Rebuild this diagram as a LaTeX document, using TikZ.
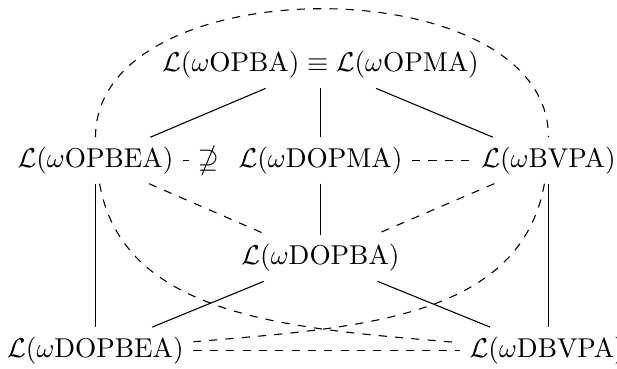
\documentclass[tikz,border=0pt]{standalone}
\usepackage{amsmath,amssymb}
\usepackage{tikz}

\begin{document}
\begin{tikzpicture}[
  s/.style={black},
  d/.style={black,dashed}]
  \useasboundingbox (0,0) rectangle (7.96,4.75);
  \node (t) at (4.135,3.91) {$\mathcal{L}(\omega\mathrm{OPBA}) \equiv \mathcal{L}(\omega\mathrm{OPMA})$};
  \node (a) at (1.232,2.68) {$\mathcal{L}(\omega\mathrm{OPBEA})$};
  \node (b) at (4.135,2.68) {$\mathcal{L}(\omega\mathrm{DOPMA})$};
  \node (c) at (7.076,2.68) {$\mathcal{L}(\omega\mathrm{BVPA})$};
  \node (e) at (4.135,1.42) {$\mathcal{L}(\omega\mathrm{DOPBA})$};
  \node (f) at (1.232,0.23) {$\mathcal{L}(\omega\mathrm{DOPBEA})$};
  \node (g) at (7.06,0.23) {$\mathcal{L}(\omega\mathrm{DBVPA})$};
  \draw[s] (t)--(a); \draw[s] (t)--(b); \draw[s] (t)--(c);
  \draw[s] (b)--(e); \draw[s] (a)--(f); \draw[s] (c)--(c |- g.north);
  \draw[s] (e)--(f); \draw[s] (e)--(g);
  \draw[d] (a) -- node[pos=0.55,fill=white] {$\nsupseteq$} (b);
  \draw[d] (b)--(c);
  \draw[d] (a)--(e); \draw[d] (c)--(e);
  \draw[d] (f)--(g);
  % outer curves
  \draw[d] (a) to[out=90,in=90,looseness=0.97] (c);
  \draw[d] (a) to[out=-80,in=175,out distance=1.8cm,in distance=2.06cm] (g);
  \draw[d] (c) to[out=-100,in=5,out distance=1.8cm,in distance=2.06cm] (f);
\end{tikzpicture}
\end{document}
